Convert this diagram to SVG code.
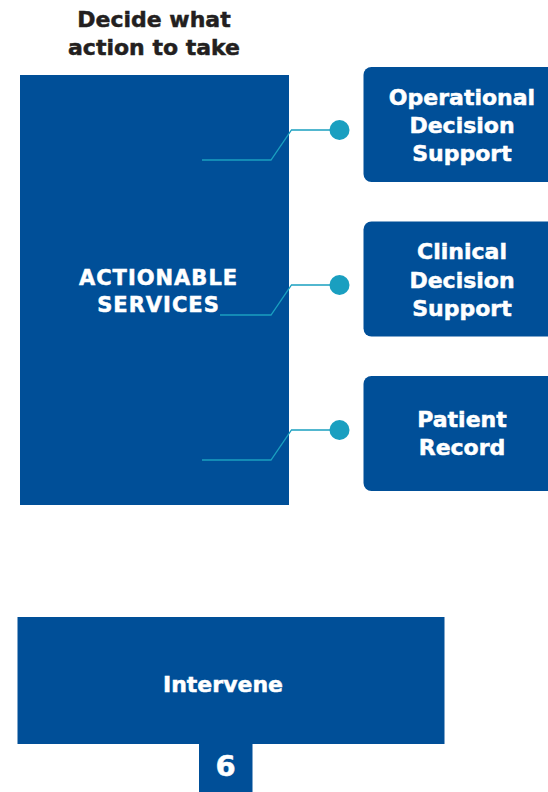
<svg xmlns="http://www.w3.org/2000/svg" width="548" height="792" viewBox="0 0 548 792">
<style>
.box{fill:#004f98}
.t{font-family:"DejaVu Sans",Verdana,sans-serif;font-weight:bold;fill:#ffffff;text-anchor:middle;stroke:#ffffff;stroke-width:0.5}
.title{font-family:"DejaVu Sans",Verdana,sans-serif;font-weight:bold;fill:#231f20;stroke:#231f20;stroke-width:0.5;text-anchor:middle;font-size:22px}
.ln{fill:none;stroke:#1aa0c0;stroke-width:1.3}
.dot{fill:#1a9fc0}
</style>
<rect width="548" height="792" fill="#ffffff"/>
<g id="title">
<text class="title" x="154" y="27">Decide what</text>
<text class="title" x="154" y="55">action to take</text>
</g>
<g id="actionable">
<rect class="box" x="20" y="75" width="269" height="430"/>
<text class="t" x="158.5" y="284.5" font-size="21" letter-spacing="1">ACTIONABLE</text>
<text class="t" x="158.5" y="312" font-size="21" letter-spacing="1">SERVICES</text>
</g>
<g id="connectors">
<polyline class="ln" points="202,160 271,160 291.5,130 339,130"/>
<circle class="dot" cx="339.5" cy="130" r="10"/>
<polyline class="ln" points="220,315 271,315 291.5,285 339,285"/>
<circle class="dot" cx="339.5" cy="285" r="10"/>
<polyline class="ln" points="202,460 271,460 291.5,430 339,430"/>
<circle class="dot" cx="339.5" cy="430" r="10"/>
</g>
<g id="operational">
<rect class="box" x="363.5" y="67" width="200" height="115" rx="8"/>
<text class="t" x="462" y="105" font-size="22">Operational</text>
<text class="t" x="462" y="133" font-size="22">Decision</text>
<text class="t" x="462" y="161" font-size="22">Support</text>
</g>
<g id="clinical">
<rect class="box" x="363.5" y="221.5" width="200" height="115" rx="8"/>
<text class="t" x="462" y="258.5" font-size="22">Clinical</text>
<text class="t" x="462" y="287.5" font-size="22">Decision</text>
<text class="t" x="462" y="315.5" font-size="22">Support</text>
</g>
<g id="patient">
<rect class="box" x="363.5" y="376" width="200" height="115" rx="8"/>
<text class="t" x="462" y="427" font-size="22">Patient</text>
<text class="t" x="462" y="455" font-size="22">Record</text>
</g>
<g id="intervene">
<rect class="box" x="17.5" y="617" width="427" height="127"/>
<text class="t" x="223" y="692" font-size="22">Intervene</text>
</g>
<g id="step6">
<rect class="box" x="199" y="743" width="53.5" height="49"/>
<text class="t" x="225.5" y="776" font-size="29">6</text>
</g>
</svg>
